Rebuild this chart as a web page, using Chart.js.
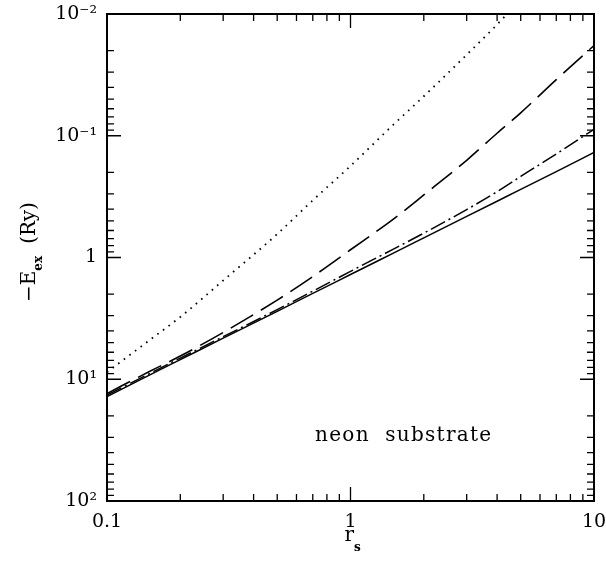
<!DOCTYPE html>
<html>
<head>
<meta charset="utf-8">
<script src="https://cdn.jsdelivr.net/npm/chart.js@4.4.0/dist/chart.umd.min.js"></script>
<style>
html,body{margin:0;padding:0;background:#fff;}
canvas{display:block;}
</style>
</head>
<body>
<canvas id="c" width="606" height="562"></canvas>
<script>
// ---- data ----
const rs        = [0.1, 0.15, 0.2, 0.3, 0.5, 0.7, 1, 1.5, 2, 3, 4, 5, 7, 10];
const solidE    = [13.9, 9.2, 6.9, 4.6, 2.77, 1.97, 1.38, 0.92, 0.69, 0.46, 0.345, 0.276, 0.197, 0.137];
const dashDotE  = [13.5, 8.95, 6.7, 4.47, 2.68, 1.89, 1.30, 0.853, 0.631, 0.404, 0.288, 0.216, 0.141, 0.0886];
const dashedE   = [13.1, 8.6, 6.45, 4.13, 2.24, 1.435, 0.864, 0.4835, 0.3065, 0.159, 0.0954, 0.0648, 0.0346, 0.01815];
const rsDotted  = [0.1, 0.15, 0.2, 0.3, 0.5, 0.7, 1, 1.5, 2, 3, 4, 5];
const dottedE   = [8.74, 4.75, 3.08, 1.545, 0.642, 0.339, 0.177, 0.0811, 0.0474, 0.0216, 0.0122, 0.0076];

const xTicks      = [0.1, 1, 10];
const xTickLabels = ['0.1', '1', '10'];
const yTicks      = [0.01, 0.1, 1, 10, 100];
const yTickLabels = ['10\u207B\u00B2', '10\u207B\u00B9', '1', '10\u00B9', '10\u00B2'];
const annotation  = 'neon  substrate';

const FONT = "'DejaVu Serif', 'Liberation Serif', serif";

function pts(xs, ys){ return xs.map((x,i)=>({x:x, y:ys[i]})); }

const ds = (label, xs, ys, dash, w) => ({
  label, data: pts(xs, ys), borderColor:'#000', backgroundColor:'#000',
  borderWidth: w, borderDash: dash, pointRadius:0, fill:false,
  cubicInterpolationMode:'monotone', borderCapStyle:'butt'
});

const frameTicks = {
  id:'frameTicks',
  afterDatasetsDraw(chart){
    const ctx = chart.ctx, a = chart.chartArea;
    const xs = chart.scales.x, ys = chart.scales.y;
    ctx.save();
    ctx.strokeStyle = '#000';
    ctx.lineWidth = 1.3;
    const minor = [2,3,4,5,6,7,8,9];
    for (let d = -1; d <= 1; d++) {
      const base = Math.pow(10, d);
      const vals = [{v:base, L:14}];
      if (d < 1) minor.forEach(m => vals.push({v:m*base, L:7}));
      vals.forEach(t => {
        const px = xs.getPixelForValue(t.v);
        ctx.beginPath();
        ctx.moveTo(px, a.bottom); ctx.lineTo(px, a.bottom - t.L);
        ctx.moveTo(px, a.top); ctx.lineTo(px, a.top + t.L);
        ctx.stroke();
      });
    }
    for (let d = -2; d <= 2; d++) {
      const base = Math.pow(10, d);
      const vals = [{v:base, L:14}];
      if (d < 2) minor.forEach(m => vals.push({v:m*base, L:7}));
      vals.forEach(t => {
        const py = ys.getPixelForValue(t.v);
        ctx.beginPath();
        ctx.moveTo(a.left, py); ctx.lineTo(a.left + t.L, py);
        ctx.moveTo(a.right, py); ctx.lineTo(a.right - t.L, py);
        ctx.stroke();
      });
    }
    ctx.lineWidth = 2;
    ctx.strokeRect(a.left, a.top, a.right - a.left, a.bottom - a.top);
    ctx.restore();
  },
  afterDraw(chart){
    const ctx = chart.ctx, a = chart.chartArea;
    const xs = chart.scales.x;
    ctx.save();
    ctx.fillStyle = '#000';
    ctx.textBaseline = 'alphabetic';
    // annotation
    ctx.font = '20px ' + FONT;
    ctx.textAlign = 'left';
    try { ctx.letterSpacing = '1.3px'; } catch(e) {}
    ctx.fillText(annotation, 315, 441);
    try { ctx.letterSpacing = '0px'; } catch(e) {}
    // x title r_s
    const cx = xs.getPixelForValue(1);
    ctx.font = '20px ' + FONT;
    const wr = ctx.measureText('r').width;
    ctx.fillText('r', cx - 6, 541);
    ctx.font = 'bold 12px ' + FONT;
    ctx.fillText('s', cx - 6 + wr, 551);
    // y title  -E_ex (Ry)
    ctx.translate(35, 302);
    ctx.rotate(-Math.PI/2);
    let x = 0;
    ctx.font = '20px ' + FONT;
    ctx.fillText('\u2212E', x, 0); x += ctx.measureText('\u2212E').width;
    ctx.font = 'bold 12px ' + FONT;
    ctx.fillText('ex', x, 7); x += ctx.measureText('ex').width + 12;
    ctx.font = '20px ' + FONT;
    ctx.fillText('(Ry)', x, 0);
    ctx.restore();
  }
};

new Chart(document.getElementById('c'), {
  type:'line',
  data:{ datasets:[
    ds('solid', rs, solidE, [], 1.5),
    ds('dash-dot', rs, dashDotE, [16,4,2,4], 1.5),
    ds('dashed', rs, dashedE, [26,9], 1.6),
    ds('dotted', rsDotted, dottedE, [1.6,5.4], 1.8)
  ]},
  options:{
    responsive:false, animation:false,
    layout:{ padding:{ top:14, right:12, left:0, bottom:0 } },
    plugins:{ legend:{display:false}, tooltip:{enabled:false} },
    scales:{
      x:{
        type:'logarithmic', min:0.1, max:10,
        grid:{ display:false, drawTicks:false }, border:{ display:false },
        afterBuildTicks: s => { s.ticks = xTicks.map(v => ({value:v})); },
        afterFit: s => { s.height = 61; s.paddingLeft = 0; s.paddingRight = 0; },
        ticks:{ autoSkip:false, maxRotation:0, padding:10, color:'#000',
          font:{ family:FONT, size:19 },
          callback: (v) => { const i = xTicks.findIndex(t => Math.abs(t - v) < 1e-9); return i >= 0 ? xTickLabels[i] : ''; } }
      },
      y:{
        type:'logarithmic', min:0.01, max:100, reverse:true,
        grid:{ display:false, drawTicks:false }, border:{ display:false },
        afterBuildTicks: s => { s.ticks = yTicks.map(v => ({value:v})); },
        afterFit: s => { s.width = 107; s.paddingTop = 0; s.paddingBottom = 0; },
        ticks:{ autoSkip:false, padding:10, color:'#000',
          font:{ family:FONT, size:19 },
          callback: (v) => { const i = yTicks.findIndex(t => Math.abs(t - v) < 1e-12); return i >= 0 ? yTickLabels[i] : ''; } }
      }
    }
  },
  plugins:[frameTicks]
});
</script>
</body>
</html>
